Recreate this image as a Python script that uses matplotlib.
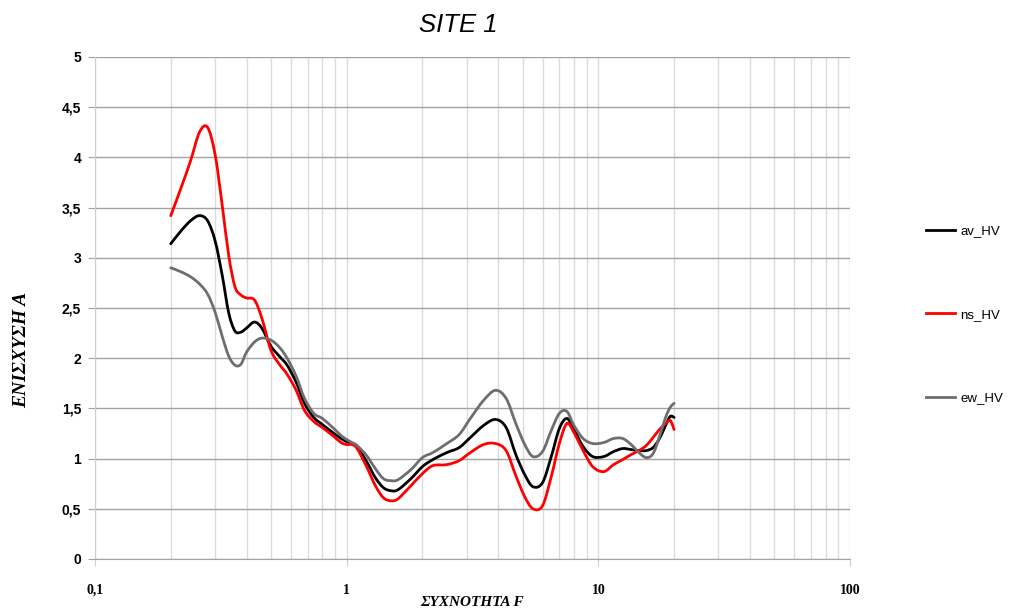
import matplotlib
matplotlib.use("Agg")
import numpy as np
import matplotlib.pyplot as plt
from matplotlib.path import Path
from matplotlib.patches import PathPatch
from matplotlib.lines import Line2D
from matplotlib.ticker import FixedLocator, FuncFormatter, NullFormatter

# Frequency samples (Hz)
freq = [0.2, 0.22, 0.24, 0.26, 0.28, 0.3, 0.32, 0.34, 0.36, 0.38, 0.4, 0.43,
        0.46, 0.5, 0.54, 0.58, 0.63, 0.68, 0.74, 0.8, 0.88, 0.95, 1.0, 1.05,
        1.1, 1.2, 1.3, 1.4, 1.5, 1.6, 1.8, 2.0, 2.2, 2.5, 2.8, 3.1, 3.5, 3.9,
        4.3, 4.7, 5.1, 5.5, 6.0, 6.5, 7.0, 7.5, 8.0, 8.7, 9.5, 10.5, 11.5,
        12.5, 13.5, 14.5, 15.5, 16.5, 17.5, 18.5, 19.3, 20.0]

av_hv = [3.14, 3.27, 3.37, 3.42, 3.37, 3.17, 2.83, 2.45, 2.27, 2.26, 2.30, 2.36,
         2.30, 2.12, 2.02, 1.93, 1.76, 1.55, 1.41, 1.34, 1.26, 1.20, 1.17, 1.15,
         1.12, 0.97, 0.81, 0.71, 0.68, 0.69, 0.80, 0.92, 0.99, 1.06, 1.11, 1.21,
         1.33, 1.39, 1.31, 1.04, 0.84, 0.72, 0.76, 1.02, 1.30, 1.40, 1.29, 1.12,
         1.02, 1.02, 1.07, 1.10, 1.09, 1.08, 1.08, 1.11, 1.20, 1.33, 1.42, 1.41]

ns_hv = [3.42, 3.70, 3.97, 4.25, 4.30, 4.03, 3.53, 3.02, 2.71, 2.63, 2.60, 2.58,
         2.40, 2.08, 1.94, 1.84, 1.68, 1.48, 1.37, 1.31, 1.23, 1.16, 1.14, 1.14,
         1.10, 0.92, 0.73, 0.61, 0.58, 0.60, 0.73, 0.85, 0.93, 0.94, 0.98, 1.06,
         1.14, 1.15, 1.08, 0.83, 0.62, 0.50, 0.53, 0.82, 1.15, 1.35, 1.26, 1.08,
         0.92, 0.87, 0.94, 0.99, 1.04, 1.08, 1.13, 1.21, 1.29, 1.35, 1.38, 1.29]

ew_hv = [2.90, 2.86, 2.81, 2.74, 2.64, 2.46, 2.22, 2.02, 1.93, 1.94, 2.06, 2.16,
         2.20, 2.18, 2.11, 2.00, 1.82, 1.60, 1.45, 1.40, 1.31, 1.23, 1.19, 1.16,
         1.13, 1.03, 0.90, 0.80, 0.78, 0.79, 0.89, 1.01, 1.06, 1.15, 1.24, 1.40,
         1.58, 1.68, 1.60, 1.35, 1.14, 1.02, 1.07, 1.28, 1.45, 1.47, 1.33, 1.20,
         1.15, 1.16, 1.20, 1.20, 1.14, 1.06, 1.01, 1.05, 1.22, 1.41, 1.51, 1.55]

series = [("av_HV", av_hv, "#000000"),
          ("ns_HV", ns_hv, "#ff0000"),
          ("ew_HV", ew_hv, "#6e6e6e")]

y_ticks = [0, 0.5, 1, 1.5, 2, 2.5, 3, 3.5, 4, 4.5, 5]
x_major = [0.1, 1, 10, 100]


def smooth_path(xs, ys):
    """Smoothed line through the points as cubic Bezier segments
    (Catmull-Rom tangents, computed in log-x space)."""
    lx = np.log10(np.asarray(xs, float))
    y = np.asarray(ys, float)
    n = len(lx)
    verts = [(xs[0], y[0])]
    codes = [Path.MOVETO]
    for i in range(n - 1):
        i0, i3 = max(i - 1, 0), min(i + 2, n - 1)
        c1x = lx[i] + (lx[i + 1] - lx[i0]) / 6.0
        c1y = y[i] + (y[i + 1] - y[i0]) / 6.0
        c2x = lx[i + 1] - (lx[i3] - lx[i]) / 6.0
        c2y = y[i + 1] - (y[i3] - y[i]) / 6.0
        verts += [(10 ** c1x, c1y), (10 ** c2x, c2y), (xs[i + 1], y[i + 1])]
        codes += [Path.CURVE4] * 3
    return Path(verts, codes)


W, H = 1009, 609
fig = plt.figure(figsize=(W / 100, H / 100), dpi=100)
ax = fig.add_axes([95 / W, 1 - 559 / H, (850 - 95) / W, (559 - 57) / H])

handles = []
for name, vals, col in series:
    patch = PathPatch(smooth_path(freq, vals), facecolor="none", edgecolor=col,
                      lw=2.0, capstyle="round", joinstyle="round", zorder=3)
    ax.add_patch(patch)
    handles.append(Line2D([], [], color=col, lw=2.0, label=name))

ax.set_xscale("log")
ax.set_xlim(0.1, 100)
ax.set_ylim(0, 5)

# grid
minor = [m * d for d in (0.1, 1, 10) for m in range(2, 10)]
ax.xaxis.set_major_locator(FixedLocator(x_major))
ax.xaxis.set_minor_locator(FixedLocator(minor))
ax.xaxis.set_minor_formatter(NullFormatter())
ax.yaxis.set_major_locator(FixedLocator(y_ticks))
ax.grid(True, which="major", axis="y", color="#a3a3a3", lw=1.0, zorder=0)
ax.grid(True, which="both", axis="x", color="#dcdcdc", lw=1.0, zorder=0)


def comma_fmt(v, pos):
    return ("%g" % v).replace(".", ",")


ax.yaxis.set_major_formatter(FuncFormatter(comma_fmt))
ax.xaxis.set_major_formatter(FuncFormatter(comma_fmt))

for side in ("top", "right"):
    ax.spines[side].set_visible(False)
ax.spines["left"].set_color("#cfcfcf")
ax.spines["bottom"].set_color("#a3a3a3")

ax.tick_params(axis="y", which="major", length=5, color="#a3a3a3", pad=5,
               labelsize=10)
ax.tick_params(axis="x", which="major", length=5, color="#cfcfcf", pad=13,
               labelsize=10)
ax.tick_params(axis="x", which="minor", length=0)

for lab in ax.get_yticklabels():
    lab.set_fontfamily("Liberation Sans")
    lab.set_fontweight("bold")
for lab in ax.get_xticklabels():
    lab.set_fontfamily("Liberation Serif")
    lab.set_fontweight("bold")

fig.text(458 / W, 1 - 25 / H, "SITE 1", fontsize=18.5, fontstyle="italic",
         family="Liberation Sans", ha="center", va="center")

ax.set_xlabel("ΣΥΧΝΟΤΗΤΑ F", fontsize=11, fontstyle="italic",
              fontweight="bold", family="Liberation Serif", va="top")
ax.xaxis.set_label_coords(0.5, -0.074)
ax.set_ylabel("ΕΝΙΣΧΥΣΗ Α", fontsize=14, fontstyle="italic",
              fontweight="bold", family="Liberation Serif")
ax.yaxis.set_label_coords(-0.086, 0.416)

fig.legend(handles=handles, loc="upper left",
           bbox_to_anchor=(926 / W, 1 - 225 / H),
           frameon=False, handlelength=2.2, handletextpad=0.4,
           labelspacing=5.4, borderpad=0, borderaxespad=0,
           prop={"family": "Liberation Sans", "size": 9.5})

fig.savefig("out.png", dpi=100)
